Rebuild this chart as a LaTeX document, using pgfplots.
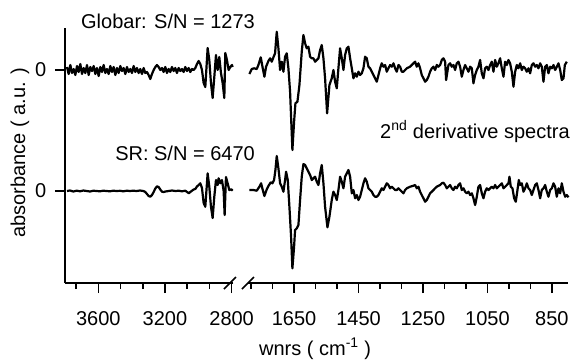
\documentclass[border=0pt]{standalone}
\usepackage{fontspec}
\setmainfont{Liberation Sans}
\usepackage{pgfplots}
\usepackage{pgfplotstable}
\pgfplotsset{compat=1.18}

\pgfplotstableread{
wn y
3788 124
3778 117
3768 126
3758 118
3748 122
3738 116
3728 125
3718 119
3708 127
3698 117
3688 123
3678 118
3668 126
3658 116
3648 124
3638 120
3628 125
3618 117
3608 123
3598 115
3588 124
3578 119
3568 126
3558 118
3548 122
3538 117
3528 125
3518 119
3508 124
3498 116
3488 123
3478 118
3468 125
3458 120
3448 123
3438 117
3428 124
3418 119
3408 122
3398 118
3388 125
3378 119
3368 123
3358 118
3348 122
3338 117
3328 123
3318 118
3308 119
3298 116
3288 112
3278 117
3268 121
3258 124
3248 126
3238 124
3228 121
3218 123
3208 119
3198 124
3188 118
3178 122
3168 119
3158 124
3148 120
3138 123
3128 118
3118 123
3108 120
3098 122
3088 119
3078 124
3068 120
3058 123
3048 119
3038 122
3028 121
3018 123
3008 127
2998 130
2988 127
2978 121
2968 108
2958 104
2944 143
2934 131
2924 108
2914 93
2904 114
2894 136
2884 121
2874 134
2864 118
2854 108
2844 93
2838 138
2828 131
2818 121
2808 124
2798 126
2794 124
}\globarleft

\pgfplotstableread{
wn y
3788 0
3770 0.5
3750 -0.5
3730 0.3
3710 -0.3
3690 0.5
3670 0
3650 -0.5
3630 0.3
3610 0
3590 -0.3
3570 0.3
3550 0
3530 -0.3
3510 0.3
3490 0
3470 0.2
3450 -0.3
3430 0.3
3410 0
3390 0.3
3370 0
3350 0.5
3330 0
3318 -1
3308 -3
3298 -5
3288 -5.7
3278 -4
3268 -1
3258 2.5
3248 4.7
3238 4
3228 1.5
3218 -0.7
3208 -1
3198 -0.5
3178 0
3158 0.5
3138 0
3118 0.3
3098 -0.3
3078 0.3
3063 -1.5
3058 -2.3
3048 -1
3038 0.3
3028 1.5
3018 2
3008 4.5
2998 6
2988 7.7
2978 3
2968 -12
2958 -15.7
2944 17.7
2934 4.3
2924 -15.7
2914 -27
2904 -5.7
2894 11
2884 6
2878 12.7
2868 7.7
2858 11
2848 0
2842 -24
2834 14
2824 7.7
2814 1
2802 1.7
2794 0.3
}\srleft

\pgfplotstableread{
wn y
1788.6 117.0
1781.4 122.0
1774.1 122.7
1765.9 122.0
1760.7 126.0
1753.4 133.7
1747.2 122.7
1742.1 114.3
1736.9 124.3
1729.7 130.0
1724.5 132.7
1719.3 129.3
1714.1 133.7
1709.0 137.7
1703.8 159.3
1698.6 142.7
1693.4 121.0
1688.3 129.3
1683.1 119.3
1677.9 134.3
1672.8 137.7
1667.6 122.7
1662.4 99.3
1655.2 41.0
1650.0 69.3
1645.8 87.7
1639.6 89.3
1633.4 106.0
1626.2 139.3
1621.0 156.0
1615.8 147.7
1610.7 142.7
1605.5 144.3
1600.3 134.3
1595.1 132.7
1590.0 132.7
1584.8 129.3
1579.6 131.0
1574.4 132.7
1569.3 141.0
1564.1 146.0
1558.9 132.7
1553.8 112.7
1547.5 77.7
1540.3 106.0
1533.1 112.7
1527.9 121.0
1522.7 109.3
1517.5 102.7
1512.4 122.7
1507.2 142.7
1502.0 132.7
1496.8 121.0
1491.7 136.0
1486.5 142.7
1481.3 144.3
1476.1 132.7
1470.9 122.7
1465.8 112.7
1460.6 117.7
1455.4 114.3
1450.3 119.3
1445.1 116.0
1439.9 117.7
1434.8 122.7
1429.6 134.3
1424.4 132.7
1419.2 124.3
1414.1 122.7
1408.9 119.3
1403.7 116.0
1398.5 112.7
1393.4 109.3
1388.2 116.0
1383.0 122.7
1377.9 127.7
1372.7 124.3
1367.5 126.0
1362.3 119.3
1357.2 122.7
1352.0 126.0
1346.8 124.3
1341.6 127.7
1336.5 122.7
1331.3 119.3
1326.1 126.0
1320.9 124.3
1315.8 119.3
1310.6 119.3
1305.4 121.0
1300.3 122.7
1290.0 124.3
1279.6 127.7
1274.4 129.3
1269.3 124.3
1264.1 127.7
1258.9 122.7
1253.8 116.0
1248.6 112.7
1243.4 109.3
1238.2 111.0
1233.1 114.3
1227.9 119.3
1222.7 122.7
1217.5 124.3
1212.4 121.0
1207.2 126.0
1202.0 124.3
1196.8 126.0
1191.7 131.0
1186.5 132.7
1181.3 129.3
1178.2 111.0
1171.0 126.0
1165.8 127.7
1160.6 124.3
1155.5 126.0
1150.3 121.0
1145.1 127.7
1139.9 129.3
1134.8 124.3
1129.6 114.3
1124.4 121.0
1119.2 126.0
1114.1 122.7
1108.9 119.3
1103.7 124.3
1098.5 122.7
1093.4 107.7
1088.2 116.0
1083.0 121.0
1077.9 124.3
1072.7 131.0
1067.5 117.7
1062.3 112.7
1057.2 122.7
1052.0 124.3
1046.8 121.0
1041.6 126.0
1036.5 129.3
1031.3 119.3
1026.1 131.0
1020.9 124.3
1015.8 127.7
1010.6 132.7
1005.4 122.7
1000.2 114.3
995.1 129.3
989.9 126.0
984.7 131.0
979.6 127.7
974.4 119.3
969.2 104.3
964.0 119.3
958.9 126.0
953.7 122.7
948.5 127.7
943.3 121.0
938.2 124.3
933.0 122.7
927.8 119.3
922.6 122.7
917.5 117.7
912.3 126.0
907.1 127.7
901.9 124.3
896.8 126.0
891.6 122.7
886.4 127.7
881.3 124.3
876.1 109.3
870.9 124.3
865.7 126.0
860.6 117.7
855.4 124.3
850.2 122.7
845.0 126.0
839.9 121.0
834.7 124.3
829.5 127.7
824.3 121.0
819.2 111.0
814.0 112.7
809.8 126.0
803.7 129.3
}\globarright

\pgfplotstableread{
wn y
1788.6 1.0
1776.2 1.0
1765.9 0.3
1757.6 4.3
1752.4 7.7
1747.2 1.0
1742.1 -5.0
1734.8 1.7
1729.7 5.0
1722.4 8.7
1717.2 7.7
1712.1 11.0
1707.9 21.0
1703.8 35.0
1698.6 22.7
1693.4 7.7
1688.3 4.3
1683.1 -0.7
1677.9 11.0
1674.8 19.3
1669.6 11.0
1664.5 -15.7
1659.3 -45.7
1655.2 -77.3
1650.0 -55.7
1646.9 -39.0
1641.7 -37.3
1636.5 -34.0
1631.4 -9.0
1626.2 14.3
1621.0 27.0
1615.8 26.0
1610.7 22.7
1605.5 19.3
1600.3 16.0
1595.1 11.0
1590.0 12.7
1584.8 14.3
1579.6 9.3
1574.4 6.0
1569.3 17.7
1564.1 26.0
1558.9 7.7
1553.8 -15.7
1546.5 -36.3
1540.3 -25.7
1533.1 -9.0
1527.9 -0.7
1522.7 -4.0
1517.5 -9.0
1512.4 1.0
1507.2 14.3
1502.0 9.3
1496.8 2.7
1491.7 14.3
1486.5 17.7
1481.3 21.0
1476.1 14.3
1470.9 -2.3
1465.8 1.0
1460.6 -7.3
1455.4 -4.0
1450.3 -9.0
1445.1 -5.7
1439.9 1.0
1434.8 7.7
1429.6 12.7
1424.4 9.3
1419.2 2.7
1414.1 1.0
1408.9 -0.7
1403.7 -4.0
1398.5 -5.7
1393.4 -5.7
1388.2 -4.0
1383.0 -0.7
1377.9 2.7
1372.7 1.0
1367.5 4.3
1362.3 7.7
1357.2 6.0
1352.0 2.7
1346.8 4.3
1341.6 2.7
1336.5 1.0
1331.3 1.0
1326.1 2.7
1320.9 1.0
1315.8 -0.7
1310.6 -2.3
1305.4 1.0
1300.3 2.7
1290.0 4.3
1279.6 5.3
1274.4 6.0
1269.3 2.7
1264.1 4.3
1258.9 -0.7
1253.8 -4.0
1248.6 -7.3
1243.4 -10.7
1238.2 -9.0
1233.1 -5.7
1227.9 -2.3
1222.7 -0.7
1217.5 1.0
1212.4 2.7
1207.2 4.3
1196.8 6.0
1191.7 7.7
1186.5 8.3
1181.3 6.0
1176.2 2.7
1171.0 4.3
1165.8 6.0
1160.6 2.7
1155.5 1.0
1150.3 4.3
1145.1 2.7
1139.9 6.0
1134.8 7.7
1129.6 1.0
1124.4 2.7
1119.2 -0.7
1114.1 -2.3
1108.9 -0.7
1103.7 -4.0
1098.5 -2.3
1093.4 -7.3
1088.2 -14.0
1083.0 -5.7
1077.9 4.3
1072.7 6.0
1067.5 -2.3
1062.3 -7.3
1057.2 -0.7
1052.0 2.7
1046.8 1.0
1041.6 2.7
1036.5 4.3
1031.3 2.7
1026.1 6.0
1020.9 2.7
1015.8 4.3
1010.6 6.0
1005.4 7.7
1000.2 2.7
995.1 4.3
989.9 6.0
984.7 7.7
981.6 14.3
977.5 4.3
972.3 2.7
967.1 -7.3
962.0 -10.7
956.8 1.0
952.6 11.0
948.5 6.0
943.3 7.7
938.2 -0.7
933.0 2.7
927.8 7.7
922.6 2.7
917.5 1.0
912.3 -4.0
907.1 1.0
901.9 6.0
896.8 7.7
891.6 1.0
886.4 -7.3
881.3 1.0
876.1 2.7
870.9 6.0
865.7 -0.7
860.6 -5.7
855.4 1.0
850.2 2.7
845.0 7.7
839.9 4.3
834.7 -5.7
829.5 2.7
824.3 -2.3
819.2 7.7
814.0 -0.7
808.8 -5.7
803.7 -4.0
798.5 -6.3
}\srright

\pgfplotsset{
  specaxis/.style={
    scale only axis,
    height=255pt,
    ymin=-92, ymax=163,
    x dir=reverse,
    tick align=outside,
    major tick length=10pt,
    minor tick length=6pt,
    axis line style={line width=1.8pt},
    every tick/.style={black, line width=1.6pt},
    /pgf/number format/assume math mode=true,
    /pgf/number format/1000 sep={},
    clip=false,
  },
  specline/.style={black, line width=2.2pt, line join=round, no markers},
}

\begin{document}
\fontsize{20}{24}\selectfont
\begin{tikzpicture}
\path[use as bounding box] (0,0) rectangle (570pt,-360pt);

\begin{axis}[specaxis,
  at={(65pt,-283pt)}, anchor=south west,
  width=168.3pt,
  xmin=2790, xmax=3800,
  axis x line*=bottom, axis y line*=left,
  xtick={2800,3200,3600},
  minor xtick={3733.3,3466.7,3333.3,3066.7,2933.3},
  ytick={0,121}, yticklabels={0,0},
  xticklabel style={yshift=-12pt},
  yticklabel style={xshift=-2pt},
]
\addplot[specline] table[x=wn,y=y] {\globarleft};
\addplot[specline] table[x=wn,y=y] {\srleft};
\end{axis}

\begin{axis}[specaxis,
  at={(248pt,-283pt)}, anchor=south west,
  width=320pt,
  xmin=800, xmax=1793,
  axis x line*=bottom, axis y line=none,
  xtick={1650,1450,1250,1050,850},
  minor xtick={1783.3,1716.7,1583.3,1516.7,1383.3,1316.7,1183.3,1116.7,983.3,916.7},
  xticklabel style={yshift=-12pt},
]
\addplot[specline] table[x=wn,y=y] {\globarright};
\addplot[specline] table[x=wn,y=y] {\srright};
\end{axis}

% axis break marks
\draw[line width=1.6pt] (224pt,-289pt) -- (236pt,-277pt);
\draw[line width=1.6pt] (242pt,-289pt) -- (254pt,-277pt);

\node[anchor=base east, inner sep=0pt] at (255pt,-28pt) {Globar: S/N = 1273};
\node[anchor=base east, inner sep=0pt] at (255pt,-160pt) {SR: S/N = 6470};
\node[anchor=base west, inner sep=0pt] at (380pt,-138pt) {2\textsuperscript{nd} derivative spectra};
\node[anchor=base, inner sep=0pt, rotate=90] at (25pt,-153pt) {absorbance ( a.u. )};
\node[anchor=base, inner sep=0pt] at (315pt,-355pt) {wnrs ( cm\textsuperscript{-1} )};
\end{tikzpicture}
\end{document}
